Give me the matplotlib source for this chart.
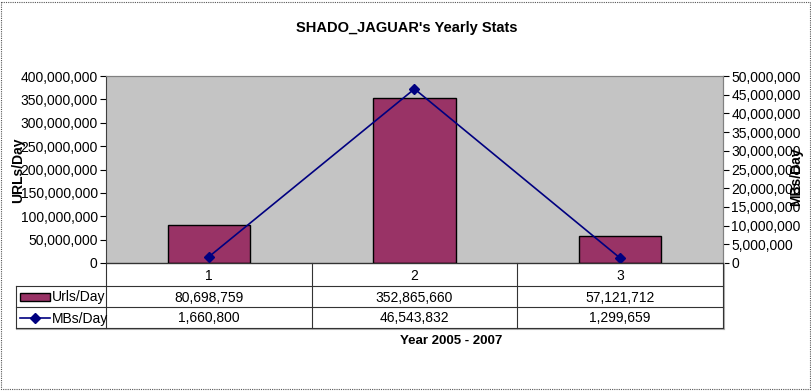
import matplotlib
matplotlib.use("Agg")
import matplotlib.pyplot as plt
from matplotlib.ticker import FuncFormatter, MultipleLocator
from matplotlib.patches import Rectangle
from matplotlib.lines import Line2D

categories = ["1", "2", "3"]
urls_per_day = [80698759, 352865660, 57121712]
mbs_per_day = [1660800, 46543832, 1299659]
series_names = ["Urls/Day", "MBs/Day"]
title = "SHADO_JAGUAR's Yearly Stats"
xlabel = "Year 2005 - 2007"

W, H = 812, 391
plt.rcParams['font.family'] = ['Liberation Sans', 'DejaVu Sans']
fig = plt.figure(figsize=(W / 100, H / 100), dpi=100)

# layout in pixels
L, R, T, B = 106, 723, 76, 263
rows = [263, 286, 307, 328]
tab_left = 16

ax = fig.add_axes([L / W, 1 - B / H, (R - L) / W, (B - T) / H])
ax.set_facecolor('#c4c4c4')
x = list(range(len(categories)))
ax.bar(x, urls_per_day, width=0.4, color='#993366', edgecolor='black', linewidth=1.0, zorder=2)
ax.set_xlim(-0.5, len(categories) - 0.5)
ax.set_ylim(0, 400000000)
ax.yaxis.set_major_locator(MultipleLocator(50000000))
fmt = FuncFormatter(lambda v, p: f"{int(v):,}")
ax.yaxis.set_major_formatter(fmt)
ax.set_xticks([])
ax.tick_params(axis='y', direction='out', length=4, width=0.8, pad=2, labelsize=10, colors='black')
for s in ['top', 'right', 'bottom']:
    ax.spines[s].set_color('#808080')
ax.spines['left'].set_color('#404040')
ax.spines['bottom'].set_color('black')

ax2 = ax.twinx()
ax2.plot(x, mbs_per_day, color='#000080', linewidth=1.2, marker='D', markersize=5, zorder=3)
ax2.set_ylim(0, 50000000)
ax2.yaxis.set_major_locator(MultipleLocator(5000000))
ax2.yaxis.set_major_formatter(fmt)
ax2.tick_params(axis='y', direction='out', length=4, width=0.8, pad=2, labelsize=10, colors='black')
ax2.spines['right'].set_color('#808080')
ax2.spines['left'].set_visible(False)
ax2.spines['top'].set_color('#808080')

# overlay axes in pixel coordinates for table and labels
ov = fig.add_axes([0, 0, 1, 1], facecolor='none')
ov.set_xlim(0, W)
ov.set_ylim(H, 0)
ov.axis('off')

# outer dotted border
ov.add_patch(Rectangle((1.5, 1.5), W - 3.5, H - 3.5, fill=False, edgecolor='#555555',
                       linestyle=(0, (1, 1)), linewidth=0.8))

ov.text(407, 28, title, ha='center', va='center', fontsize=10.5, fontweight='bold')
ov.text(18, 170, "URLs/Day", rotation=90, ha='center', va='center', fontsize=10, fontweight='bold')
ov.text(796, 177, "MBs/Day", rotation=90, ha='center', va='center', fontsize=10, fontweight='bold')
ov.text(451, 341, xlabel, ha='center', va='center', fontsize=9.5, fontweight='bold')

colw = (R - L) / len(categories)
lc = '#333333'
# shadow lines
ov.plot([tab_left + 1, R + 1], [rows[-1] + 1, rows[-1] + 1], color='#b0b0b0', lw=1.5)
ov.plot([R + 1.5, R + 1.5], [rows[0] + 1, rows[-1] + 1], color='#b0b0b0', lw=1.5)
# horizontal lines
ov.plot([L, R], [rows[0], rows[0]], color=lc, lw=0.8)
for yy in rows[1:]:
    ov.plot([tab_left, R], [yy, yy], color=lc, lw=0.8)
# vertical lines
for i in range(len(categories) + 1):
    xx = L + i * colw
    ov.plot([xx, xx], [rows[0], rows[-1]], color=lc, lw=0.8)
ov.plot([tab_left, tab_left], [rows[1], rows[-1]], color=lc, lw=0.8)

# category row
for i, c in enumerate(categories):
    ov.text(L + (i + 0.5) * colw, (rows[0] + rows[1]) / 2 + 1, c, ha='center', va='center', fontsize=10)
# data rows
for r, vals in enumerate([urls_per_day, mbs_per_day]):
    yc = (rows[r + 1] + rows[r + 2]) / 2 + 1
    for i, v in enumerate(vals):
        ov.text(L + (i + 0.5) * colw, yc, f"{v:,}", ha='center', va='center', fontsize=10)
    ov.text(52, yc, series_names[r], ha='left', va='center', fontsize=10)

# legend keys
yc1 = (rows[1] + rows[2]) / 2
ov.add_patch(Rectangle((20, yc1 - 4), 30, 8, facecolor='#993366', edgecolor='black', lw=1.0))
yc2 = (rows[2] + rows[3]) / 2
ov.add_line(Line2D([20, 50], [yc2, yc2], color='#000080', lw=1.2, marker='D',
                   markevery=[1], markersize=5))
ov.lines[-1].set_data([20, 35, 50], [yc2, yc2, yc2])

fig.savefig("out.png", dpi=100)
